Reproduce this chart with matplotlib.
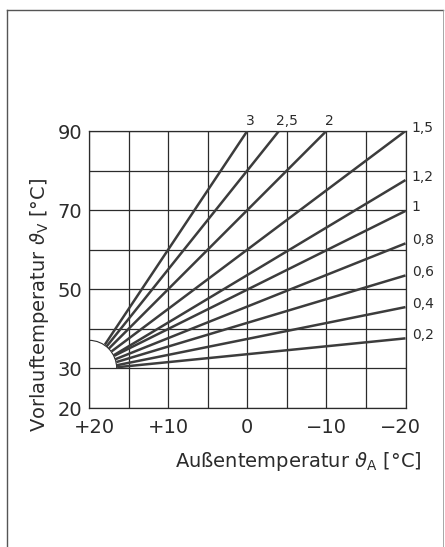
import matplotlib
matplotlib.use('Agg')
import matplotlib.pyplot as plt
from matplotlib.patches import Arc
from matplotlib.lines import Line2D
from matplotlib.transforms import ScaledTranslation

plt.rcParams['font.family'] = ['DejaVu Sans']
plt.rcParams['mathtext.fontset'] = 'dejavusans'

# heating curves: slope label, start point on the arc, end point at the border
curve_labels = ['3', '2,5', '2', '1,5', '1,2', '1', '0,8', '0,6', '0,4', '0,2']
start_temp = [18.0, 17.8, 17.5, 17.15, 16.9, 16.8, 16.7, 16.55, 16.5, 16.45]
start_flow = [36.0, 35.5, 35.0, 34.3, 33.3, 33.2, 32.3, 31.6, 30.8, 30.3]
end_temp = [0, -4, -10, -20, -20, -20, -20, -20, -20, -20]
end_flow = [90, 90, 90, 90, 77.6, 69.8, 61.6, 53.5, 45.5, 37.6]

x_ticks = [20, 15, 10, 5, 0, -5, -10, -15, -20]
x_ticklabels = ['+20', '', '+10', '', '0', '', '\u221210', '', '\u221220']
y_ticks = [20, 30, 40, 50, 60, 70, 80, 90]
y_ticklabels = ['20', '30', '', '50', '', '70', '', '90']

ink = '#2b2b2b'
curve_col = '#3c3c3c'

fig = plt.figure(figsize=(4.45, 5.47), dpi=100)
ax = fig.add_axes([89/445, 1 - 408/547, (405.5 - 89)/445, (408 - 131)/547])

ax.set_xlim(20, -20)
ax.set_ylim(20, 90)
ax.set_xticks(x_ticks)
ax.set_xticklabels(x_ticklabels)
ax.set_yticks(y_ticks)
ax.set_yticklabels(y_ticklabels)
ax.tick_params(length=0, labelsize=14, colors=ink)
ax.tick_params(axis='x', pad=7)
ax.tick_params(axis='y', pad=5)
ax.grid(True, color=ink, linewidth=0.9)
ax.set_axisbelow(True)
for s in ax.spines.values():
    s.set_color(ink)
    s.set_linewidth(0.9)

# the outer x labels sit a little inward, as in the print
xl = ax.get_xticklabels()
xl[0].set_transform(xl[0].get_transform() + ScaledTranslation(5/100, 0, fig.dpi_scale_trans))
xl[-1].set_transform(xl[-1].get_transform() + ScaledTranslation(-5/100, 0, fig.dpi_scale_trans))

# quarter circle around the start region
arc_w = 7.0
arc_h = 14.2
ax.add_patch(Arc((20, 30), arc_w, arc_h, theta1=90, theta2=180,
                 color=ink, linewidth=0.8, zorder=3))

for i in range(len(curve_labels)):
    ax.plot([start_temp[i], end_temp[i]], [start_flow[i], end_flow[i]],
            color=curve_col, linewidth=1.8, solid_capstyle='butt', zorder=4)
    if end_temp[i] > -20:
        ax.annotate(curve_labels[i], (end_temp[i], end_flow[i]),
                    xytext=(6 if curve_labels[i] == '2,5' else 2, 7.5),
                    textcoords='offset points', ha='center', va='center',
                    fontsize=10, color=ink, annotation_clip=False)
    else:
        ax.annotate(curve_labels[i], (end_temp[i], end_flow[i]),
                    xytext=(4.5, 2.5), textcoords='offset points',
                    ha='left', va='center', fontsize=10, color=ink,
                    annotation_clip=False)

fig.text(422/445, 1 - 467/547, 'Au\u00dfentemperatur $\\vartheta_\\mathrm{A}$ [\u00b0C]',
         ha='right', va='baseline', fontsize=14, color=ink)
fig.text(40/445, 1 - 432/547, 'Vorlauftemperatur $\\vartheta_\\mathrm{V}$ [\u00b0C]',
         rotation=90, ha='center', va='bottom', fontsize=14, color=ink)

# page frame
fl, ft, fr = 7/445, 1 - 9.5/547, 443/445
fig.add_artist(Line2D([fl, fl], [0, ft], transform=fig.transFigure, color='#555555', linewidth=1))
fig.add_artist(Line2D([fl, fr], [ft, ft], transform=fig.transFigure, color='#555555', linewidth=1))
fig.add_artist(Line2D([fr, fr], [0, ft], transform=fig.transFigure, color='#999999', linewidth=0.6))

fig.savefig('out.png', dpi=100)
